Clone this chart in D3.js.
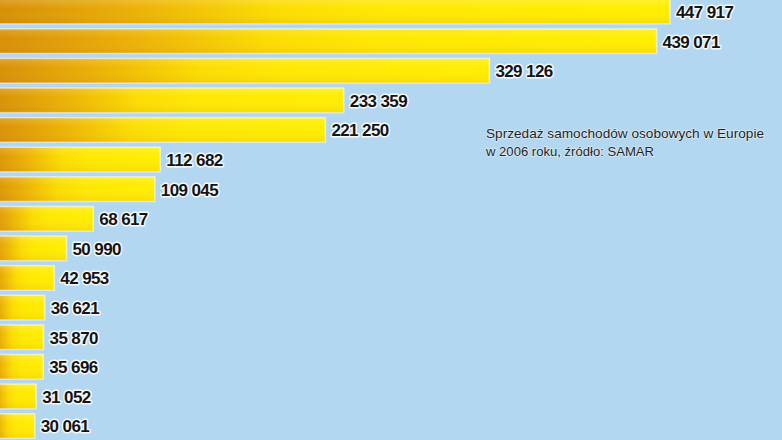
<!DOCTYPE html>
<html>
<head>
<meta charset="utf-8">
<script src="https://cdn.jsdelivr.net/npm/d3@7"></script>
<style>
  body { margin: 0; background: #b3d7f1; }
  svg { display: block; }
</style>
</head>
<body>
<div class="chart"></div>
<script>
// sprzedaz 2006, kolejnosc jak na obrazku (od gory)
var values = [447917, 439071, 329126, 233359, 221250, 112682, 109045, 68617,
              50990, 42953, 36621, 35870, 35696, 31052, 30061]
var labels = ["447 917", "439 071", "329 126", "233 359", "221 250", "112 682", "109 045", "68 617",
              "50 990", "42 953", "36 621", "35 870", "35 696", "31 052", "30 061"]
var note = ["Sprzedaż samochodów osobowych w Europie", "w 2006 roku, źródło: SAMAR"]

var width = 782, height = 440

var svg = d3.select(".chart")
  .append("svg")
    .attr("width", width)
    .attr("height", height)

svg.append("rect")
    .attr("width", width)
    .attr("height", height)
    .attr("fill", "#b3d7f1")

var defs = svg.append("defs")
var grad = defs.append("linearGradient")
    .attr("id", "barGrad")
    .attr("x1", 0).attr("x2", 1).attr("y1", 0).attr("y2", 0)
grad.selectAll("stop")
  .data([["0", "#d58c06"], ["0.2", "#eaae04"], ["0.42", "#fcdc00"], ["0.58", "#ffe800"], ["1", "#ffee00"]])
  .enter().append("stop")
    .attr("offset", d => d[0])
    .attr("stop-color", d => d[1])

var sheen = defs.append("linearGradient")
    .attr("id", "sheen")
    .attr("x1", 0).attr("x2", 0).attr("y1", 0).attr("y2", 1)
sheen.selectAll("stop")
  .data([["0", "#ffffff", 0.18], ["0.4", "#ffffff", 0.0], ["1", "#b06000", 0.12]])
  .enter().append("stop")
    .attr("offset", d => d[0])
    .attr("stop-color", d => d[1])
    .attr("stop-opacity", d => d[2])

// lewa krawedz slupkow jest poza kadrem
var x = d3.scaleLinear()
    .domain([0, d3.max(values)])
    .range([-11, 670])

var y = d3.scaleBand()
    .domain(d3.range(values.length))
    .range([-3.3, 440.8])
    .paddingInner(0.17)
    .paddingOuter(0.085)

var bars = svg.selectAll(".bar")
    .data(values)
    .enter()
    .append("g")
    .attr("class", "bar")

bars.append("rect")
    .attr("x", x(0))
    .attr("y", (d, i) => y(i))
    .attr("width", d => x(d) - x(0))
    .attr("height", y.bandwidth())
    .attr("fill", "url(#barGrad)")
    .attr("stroke", "rgba(255,255,255,0.55)")
    .attr("stroke-width", 1.5)

bars.append("rect")
    .attr("x", x(0))
    .attr("y", (d, i) => y(i))
    .attr("width", d => x(d) - x(0))
    .attr("height", y.bandwidth())
    .attr("fill", "url(#sheen)")

bars.append("text")
    .attr("x", d => x(d) + 6)
    .attr("y", (d, i) => y(i) + y.bandwidth() / 2 + 1)
    .attr("dominant-baseline", "central")
    .attr("font-family", "'Liberation Sans', Arial, sans-serif")
    .attr("font-weight", "bold")
    .attr("font-size", 17)
    .attr("letter-spacing", -0.6)
    .attr("fill", "#141414")
    .attr("stroke", "rgba(255,255,255,0.85)")
    .attr("stroke-width", 3)
    .attr("stroke-linejoin", "round")
    .attr("paint-order", "stroke")
    .text((d, i) => labels[i])

svg.selectAll(".note")
    .data(note)
    .enter()
    .append("text")
    .attr("class", "note")
    .attr("x", 486)
    .attr("y", (d, i) => 138 + i * 17.5)
    .attr("font-family", "'Liberation Sans Narrow', 'Liberation Sans', Arial, sans-serif")
    .attr("font-size", 13.5)
    .attr("fill", "#1e1e1e")
    .attr("stroke", "rgba(255,255,255,0.5)")
    .attr("stroke-width", 1.5)
    .attr("paint-order", "stroke")
    .attr("textLength", (d, i) => i == 0 ? 278 : 168)
    .attr("lengthAdjust", "spacingAndGlyphs")
    .text(d => d)
</script>
</body>
</html>
